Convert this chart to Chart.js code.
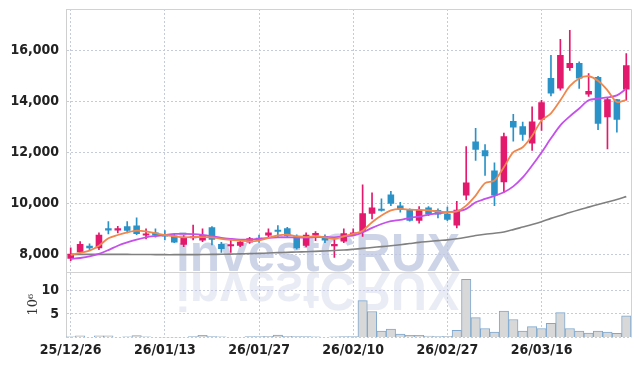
<!DOCTYPE html>
<html>
<head>
<meta charset="utf-8">
<script src="https://cdn.jsdelivr.net/npm/chart.js@4.4.1/dist/chart.umd.min.js"></script>
<style>
  html, body { margin: 0; padding: 0; background: #fff; }
  #c { display: block; }
</style>
</head>
<body>
<canvas id="c" width="639" height="366"></canvas>
<script>
// trading days (YY/MM/DD)
var dates = ['25/12/26','25/12/29','25/12/30','26/01/02','26/01/05','26/01/06','26/01/07','26/01/08','26/01/09','26/01/12',
  '26/01/13','26/01/14','26/01/15','26/01/16','26/01/19','26/01/20','26/01/21','26/01/22','26/01/23','26/01/26',
  '26/01/27','26/01/28','26/01/29','26/01/30','26/02/02','26/02/03','26/02/04','26/02/05','26/02/06','26/02/09',
  '26/02/10','26/02/11','26/02/12','26/02/13','26/02/19','26/02/20','26/02/23','26/02/24','26/02/25','26/02/26',
  '26/02/27','26/03/03','26/03/04','26/03/05','26/03/06','26/03/09','26/03/10','26/03/11','26/03/12','26/03/13',
  '26/03/16','26/03/17','26/03/18','26/03/19','26/03/20','26/03/23','26/03/24','26/03/25','26/03/26','26/03/27'];

var open = [7840,8090,8350,8250,9030,8950,9110,9140,8750,8870, 8780,8750,8390,8640,8550,9070,8420,8330,8350,8480,
  8640,8750,8970,9030,8720,8350,8750,8720,8330,8520, 8780,8910,9600,9780,10350,9920,9750,9330,9850,9750,
  9600,9140,10310,12430,12080,11290,10830,13230,13020,12350, 13280,14910,14500,15300,15500,14270,14950,13380,14080,14460];
var high = [8270,8510,8420,8850,9290,9110,9290,9440,9010,9010, 8940,8810,8750,9160,9010,9100,8480,8620,8550,8680,
  8770,9010,9140,9070,8780,8850,8900,8780,8590,9010, 9010,10730,10420,10180,10480,10050,9790,9880,9880,9790,
  9860,10090,12230,12940,12310,11590,12760,13490,13190,13780, 14040,15800,16420,16780,15540,15080,14980,14140,14080,15870];
var low = [7770,8070,8200,8200,8810,8850,8850,8780,8620,8680, 8580,8470,8310,8580,8510,8380,8090,8090,8310,8440,
  8480,8680,8680,8680,8220,8300,8550,8470,7890,8470, 8750,8710,9400,9700,9920,9660,9310,9230,9530,9440,
  9330,9050,10140,11690,11100,9920,10440,12440,12470,12080, 12860,14210,14430,15210,14500,14190,12890,12140,12790,14040];
var close = [8040,8420,8250,8780,8950,9030,8940,8810,8820,8750, 8710,8480,8680,8720,8770,8580,8220,8390,8510,8640,
  8580,8870,8900,8720,8250,8780,8850,8550,8420,8840, 8870,9620,9850,9720,9990,9750,9330,9750,9570,9570,
  9370,9760,10820,12100,11850,10310,12630,12970,12690,13210, 13960,14300,15810,15500,14890,14400,13120,14080,13280,15410];

// moving averages
var maShort = [7990,8070,8160,8350,8640,8770,8870,8940,8910,8840, 8770,8720,8680,8690,8690,8680,8620,8580,8550,8520,
  8550,8660,8750,8780,8720,8690,8720,8680,8620,8720, 8810,8940,9270,9530,9730,9790,9760,9750,9730,9690,
  9660,9690,9920,10310,10800,10900,11420,12010,12200,12650, 13250,13530,14040,14590,14890,14980,14800,14430,13970,14060];
var maMid = [7830,7870,7930,8030,8180,8350,8480,8590,8680,8730, 8770,8810,8810,8800,8770,8720,8660,8620,8590,8590,
  8620,8660,8680,8680,8670,8670,8690,8690,8680,8720, 8750,8870,9050,9200,9310,9360,9440,9490,9570,9620,
  9660,9690,9790,10050,10180,10300,10440,10670,11020,11490, 12000,12550,13060,13410,13720,14040,14100,14150,14230,14490];
var maLong = [8010,8010,8010,8012,8012,8012,8010,8008,8005,8003, 8000,8000,8000,8002,8005,8010,8015,8020,8030,8040,
  8050,8065,8080,8095,8105,8115,8130,8145,8165,8180, 8210,8245,8280,8315,8350,8390,8435,8480,8515,8550,
  8580,8620,8680,8750,8800,8840,8890,8980,9080,9180, 9290,9420,9530,9650,9760,9860,9960,10060,10160,10270];

// volume in millions
var volume = [0.15,0.35,0.1,0.35,0.35,0.1,0.15,0.4,0.15,0.1, 0.05,0.05,0.1,0.2,0.45,0.2,0.15,0.1,0.1,0.2,
  0.2,0.25,0.5,0.25,0.2,0.2,0.15,0.1,0.15,0.2, 0.2,7.8,5.5,1.35,1.8,0.73,0.45,0.45,0.3,0.2,
  0.25,1.5,12.3,4.2,1.9,1.15,5.6,3.8,1.35,2.3, 1.9,3.0,5.25,1.9,1.35,0.94,1.35,1.15,0.87,4.6];

var priceTicks = [8000, 10000, 12000, 14000, 16000];
var volumeTicks = [0, 5, 10];

var UP = '#e2196c', DOWN = '#2b92c8';
var candleColor = close.map(function (c, i) { return c >= open[i] ? UP : DOWN; });

var tickFont = { family: "'Liberation Sans Narrow', 'DejaVu Sans Condensed', sans-serif", size: 14, weight: 'bold' };
var gridColor = '#c6cbdc';

var watermark = {
  id: 'watermark',
  beforeDatasetsDraw: function (chart) {
    var c = chart.ctx, a = chart.chartArea, sep = chart.scales.y2.top;
    c.save();
    c.beginPath();
    c.rect(a.left, a.top, a.right - a.left, a.bottom - a.top);
    c.clip();
    c.font = 'bold 54px "Liberation Sans", Arial, sans-serif';
    var w = c.measureText('investCRUX').width;
    c.translate(318, sep);
    c.scale(284 / w, 1);
    c.textAlign = 'center';
    c.textBaseline = 'alphabetic';
    c.fillStyle = 'rgba(190,197,224,0.75)';
    c.fillText('investCRUX', 0, -1);
    c.scale(1, -1);
    c.fillStyle = 'rgba(190,197,224,0.32)';
    c.fillText('investCRUX', 0, -1);
    c.restore();
    // frame
    c.save();
    c.strokeStyle = '#d2d2d2';
    c.lineWidth = 1;
    c.beginPath();
    c.moveTo(a.left, a.top + 0.5); c.lineTo(a.right + 0.5, a.top + 0.5);
    c.lineTo(a.right + 0.5, a.bottom);
    c.moveTo(a.left, Math.round(sep) + 0.5); c.lineTo(a.right, Math.round(sep) + 0.5);
    c.stroke();
    c.restore();
  }
};

function noPad(s) { s.width = 66; s.paddingTop = 0; s.paddingBottom = 0; }

var ctx = document.getElementById('c').getContext('2d');
var myChart = new Chart(ctx, {
  data: {
    labels: dates,
    datasets: [
      { type: 'line', data: maShort, yAxisID: 'y', borderColor: '#f0874c', borderWidth: 1.8, pointRadius: 0, tension: 0.3 },
      { type: 'line', data: maMid, yAxisID: 'y', borderColor: '#c550ea', borderWidth: 1.8, pointRadius: 0, tension: 0.3 },
      { type: 'line', data: maLong, yAxisID: 'y', borderColor: '#808080', borderWidth: 1.6, pointRadius: 0, tension: 0.3 },
      { type: 'bar', data: open.map(function (o, i) { return [o, close[i]]; }), yAxisID: 'y',
        backgroundColor: candleColor, barPercentage: 0.7, categoryPercentage: 1, grouped: false, minBarLength: 2 },
      { type: 'bar', data: low.map(function (l, i) { return [l, high[i]]; }), yAxisID: 'y',
        backgroundColor: candleColor, barThickness: 1, grouped: false },
      { type: 'bar', data: volume, yAxisID: 'y2', backgroundColor: '#d8d8d8', borderColor: '#7ea8cf', borderWidth: 1,
        barPercentage: 1, categoryPercentage: 1, grouped: false }
    ]
  },
  options: {
    responsive: false,
    animation: false,
    devicePixelRatio: 1,
    layout: { padding: { top: 9, right: 8, left: 0, bottom: 0 } },
    plugins: { legend: { display: false }, tooltip: { enabled: false } },
    scales: {
      x: {
        type: 'category',
        offset: true,
        grid: {
          offset: false,
          drawTicks: false,
          color: function (c) { return c.index % 10 === 0 ? gridColor : 'rgba(0,0,0,0)'; }
        },
        border: { display: false, dash: [2, 2] },
        ticks: {
          autoSkip: false, maxRotation: 0, padding: 4, color: '#222', font: tickFont,
          callback: function (v, i) { return i % 10 === 0 ? dates[i] : ''; }
        },
        afterFit: function (s) { s.height = 28.5; }
      },
      // volume panel first: left stacked boxes are laid out in reverse order
      y2: {
        position: 'left', stack: 'v', stackWeight: 1,
        min: 0, max: 13.9,
        grid: { color: gridColor, drawTicks: false },
        border: { display: true, color: '#cfcfcf', dash: [2, 2] },
        title: { display: true, text: '10⁶', color: '#333', padding: { top: 26, bottom: 0 },
          font: { family: "'DejaVu Serif', serif", size: 13 } },
        ticks: {
          autoSkip: false, padding: 7, color: '#222', font: tickFont,
          callback: function (v) { return v === 0 ? '' : v; }
        },
        afterBuildTicks: function (s) { s.ticks = volumeTicks.map(function (v) { return { value: v }; }); },
        afterFit: noPad
      },
      y: {
        position: 'left', stack: 'v', stackWeight: 4,
        min: 7330, max: 17610,
        grid: { color: gridColor, drawTicks: false },
        border: { display: true, color: '#cfcfcf', dash: [2, 2] },
        ticks: {
          autoSkip: false, padding: 7, color: '#222', font: tickFont,
          callback: function (v) { return v.toLocaleString('en-US'); }
        },
        afterBuildTicks: function (s) { s.ticks = priceTicks.map(function (v) { return { value: v }; }); },
        afterFit: noPad
      }
    }
  },
  plugins: [watermark]
});
</script>
</body>
</html>
